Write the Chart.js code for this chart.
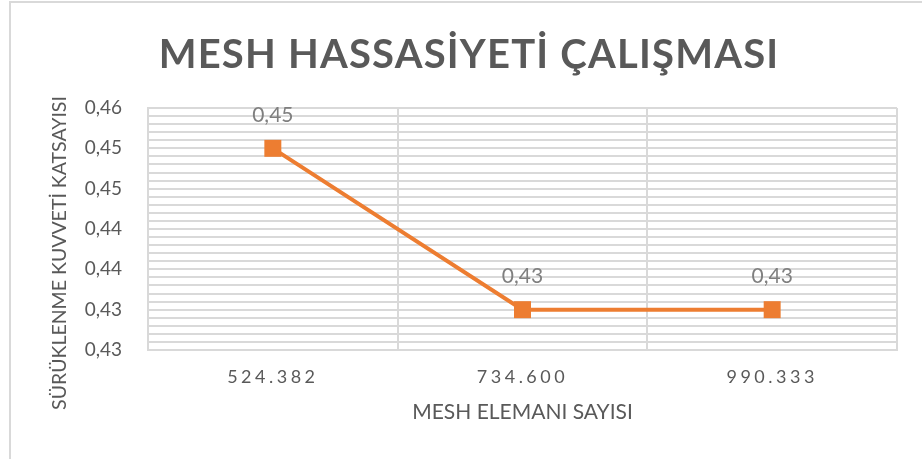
<!DOCTYPE html>
<html><head><meta charset="utf-8">
<script src="https://cdn.jsdelivr.net/npm/chart.js@4/dist/chart.umd.min.js"></script>
<style>
html,body{margin:0;padding:0;background:#fff;overflow:hidden}
#wrap{position:relative;width:922px;height:459px}
#frame{position:absolute;left:9px;top:1px;width:940px;height:490px;border:2px solid #d9d9d9;box-sizing:border-box}
canvas{position:absolute;left:0;top:0}
</style></head><body>
<div id="wrap"><div id="frame"></div><canvas id="c" width="922" height="459"></canvas></div>
<script>
const chartTitle = 'MESH HASSASİYETİ ÇALIŞMASI';
const xAxisTitle = 'MESH ELEMANI SAYISI';
const yAxisTitle = 'SÜRÜKLENME KUVVETİ KATSAYISI';
const categories = ['524.382', '734.600', '990.333'];
const dragCoefficient = [0.450, 0.430, 0.430];
const pointLabels = ['0,45', '0,43', '0,43'];
const yTickLabels = ['0,43', '0,43', '0,44', '0,44', '0,45', '0,45', '0,46'];
const yMin = 0.425, yMax = 0.455, yMinorStep = 0.001, yMajorEvery = 5;

const FONT = 'Lato, "Open Sans", sans-serif';
const TEXT = '#595959';
const GRID = '#d9d9d9';
const ORANGE = '#ed7d31';

// letter spacing for category (x) tick labels
const origDrawLabels = Chart.Scale.prototype.drawLabels;
Chart.CategoryScale.prototype.drawLabels = function (area) {
  const ctx = this.ctx; ctx.save(); ctx.letterSpacing = '3.5px';
  origDrawLabels.call(this, area); ctx.restore();
};
// letter spacing for chart title
if (Chart.Title && Chart.Title._element) {
  const TP = Chart.Title._element.prototype;
  const origTitleDraw = TP.draw;
  TP.draw = function () {
    const ctx = this.ctx; ctx.save(); ctx.letterSpacing = '1.2px';
    origTitleDraw.call(this); ctx.restore();
  };
}

const pointLabelPlugin = {
  id: 'pointLabels',
  afterDatasetsDraw(chart) {
    const ctx = chart.ctx;
    const meta = chart.getDatasetMeta(0);
    ctx.save();
    ctx.font = '21px ' + FONT;
    ctx.fillStyle = '#7f7f7f';
    ctx.textAlign = 'center';
    ctx.textBaseline = 'middle';
    meta.data.forEach((pt, i) => ctx.fillText(pointLabels[i], pt.x, pt.y - 33));
    ctx.restore();
  }
};
const yTitlePlugin = {
  id: 'yTitle',
  afterDraw(chart) {
    const ctx = chart.ctx;
    ctx.save();
    ctx.translate(60, 253);
    ctx.rotate(-Math.PI / 2);
    ctx.font = '19.5px ' + FONT;
    ctx.fillStyle = TEXT;
    ctx.textAlign = 'center';
    ctx.textBaseline = 'middle';
    ctx.fillText(yAxisTitle, 0, 0);
    ctx.restore();
  }
};

new Chart(document.getElementById('c'), {
  type: 'line',
  data: {
    labels: categories,
    datasets: [{
      data: dragCoefficient,
      borderColor: ORANGE,
      backgroundColor: ORANGE,
      borderWidth: 4,
      pointStyle: 'rect',
      pointRadius: 12,
      pointBorderWidth: 0,
      pointHoverRadius: 12,
      tension: 0,
      clip: false
    }]
  },
  options: {
    responsive: false,
    animation: false,
    events: [],
    layout: { padding: { top: 0, left: 41, right: 25, bottom: 0 } },
    plugins: {
      legend: { display: false },
      tooltip: { enabled: false },
      title: {
        display: true,
        text: chartTitle,
        color: TEXT,
        font: { family: FONT, size: 40, weight: 'bold', lineHeight: 1.2 },
        padding: { top: 31, bottom: 29 }
      }
    },
    scales: {
      x: {
        type: 'category',
        offset: true,
        grid: { display: true, offset: true, color: GRID, lineWidth: 2, drawTicks: false },
        border: { display: true, color: GRID, width: 2 },
        ticks: { color: TEXT, font: { family: FONT, size: 18 }, padding: 16, maxRotation: 0 },
        title: {
          display: true, text: xAxisTitle, color: TEXT,
          font: { family: FONT, size: 21, lineHeight: 1.2 },
          padding: { top: 0, bottom: 34 }
        },
        afterFit(s) { s.height = 109; }
      },
      y: {
        type: 'linear',
        min: yMin, max: yMax,
        grid: { color: GRID, lineWidth: 2, drawTicks: false },
        border: { display: true, color: GRID, width: 2 },
        ticks: {
          stepSize: yMinorStep,
          autoSkip: false,
          color: TEXT,
          font: { family: FONT, size: 19 },
          padding: 26,
          callback: (v, i) => (i % yMajorEvery === 0 ? yTickLabels[i / yMajorEvery] : '')
        },
        afterFit(s) { s.width = 107; }
      }
    }
  },
  plugins: [pointLabelPlugin, yTitlePlugin]
});
</script>
</body></html>
